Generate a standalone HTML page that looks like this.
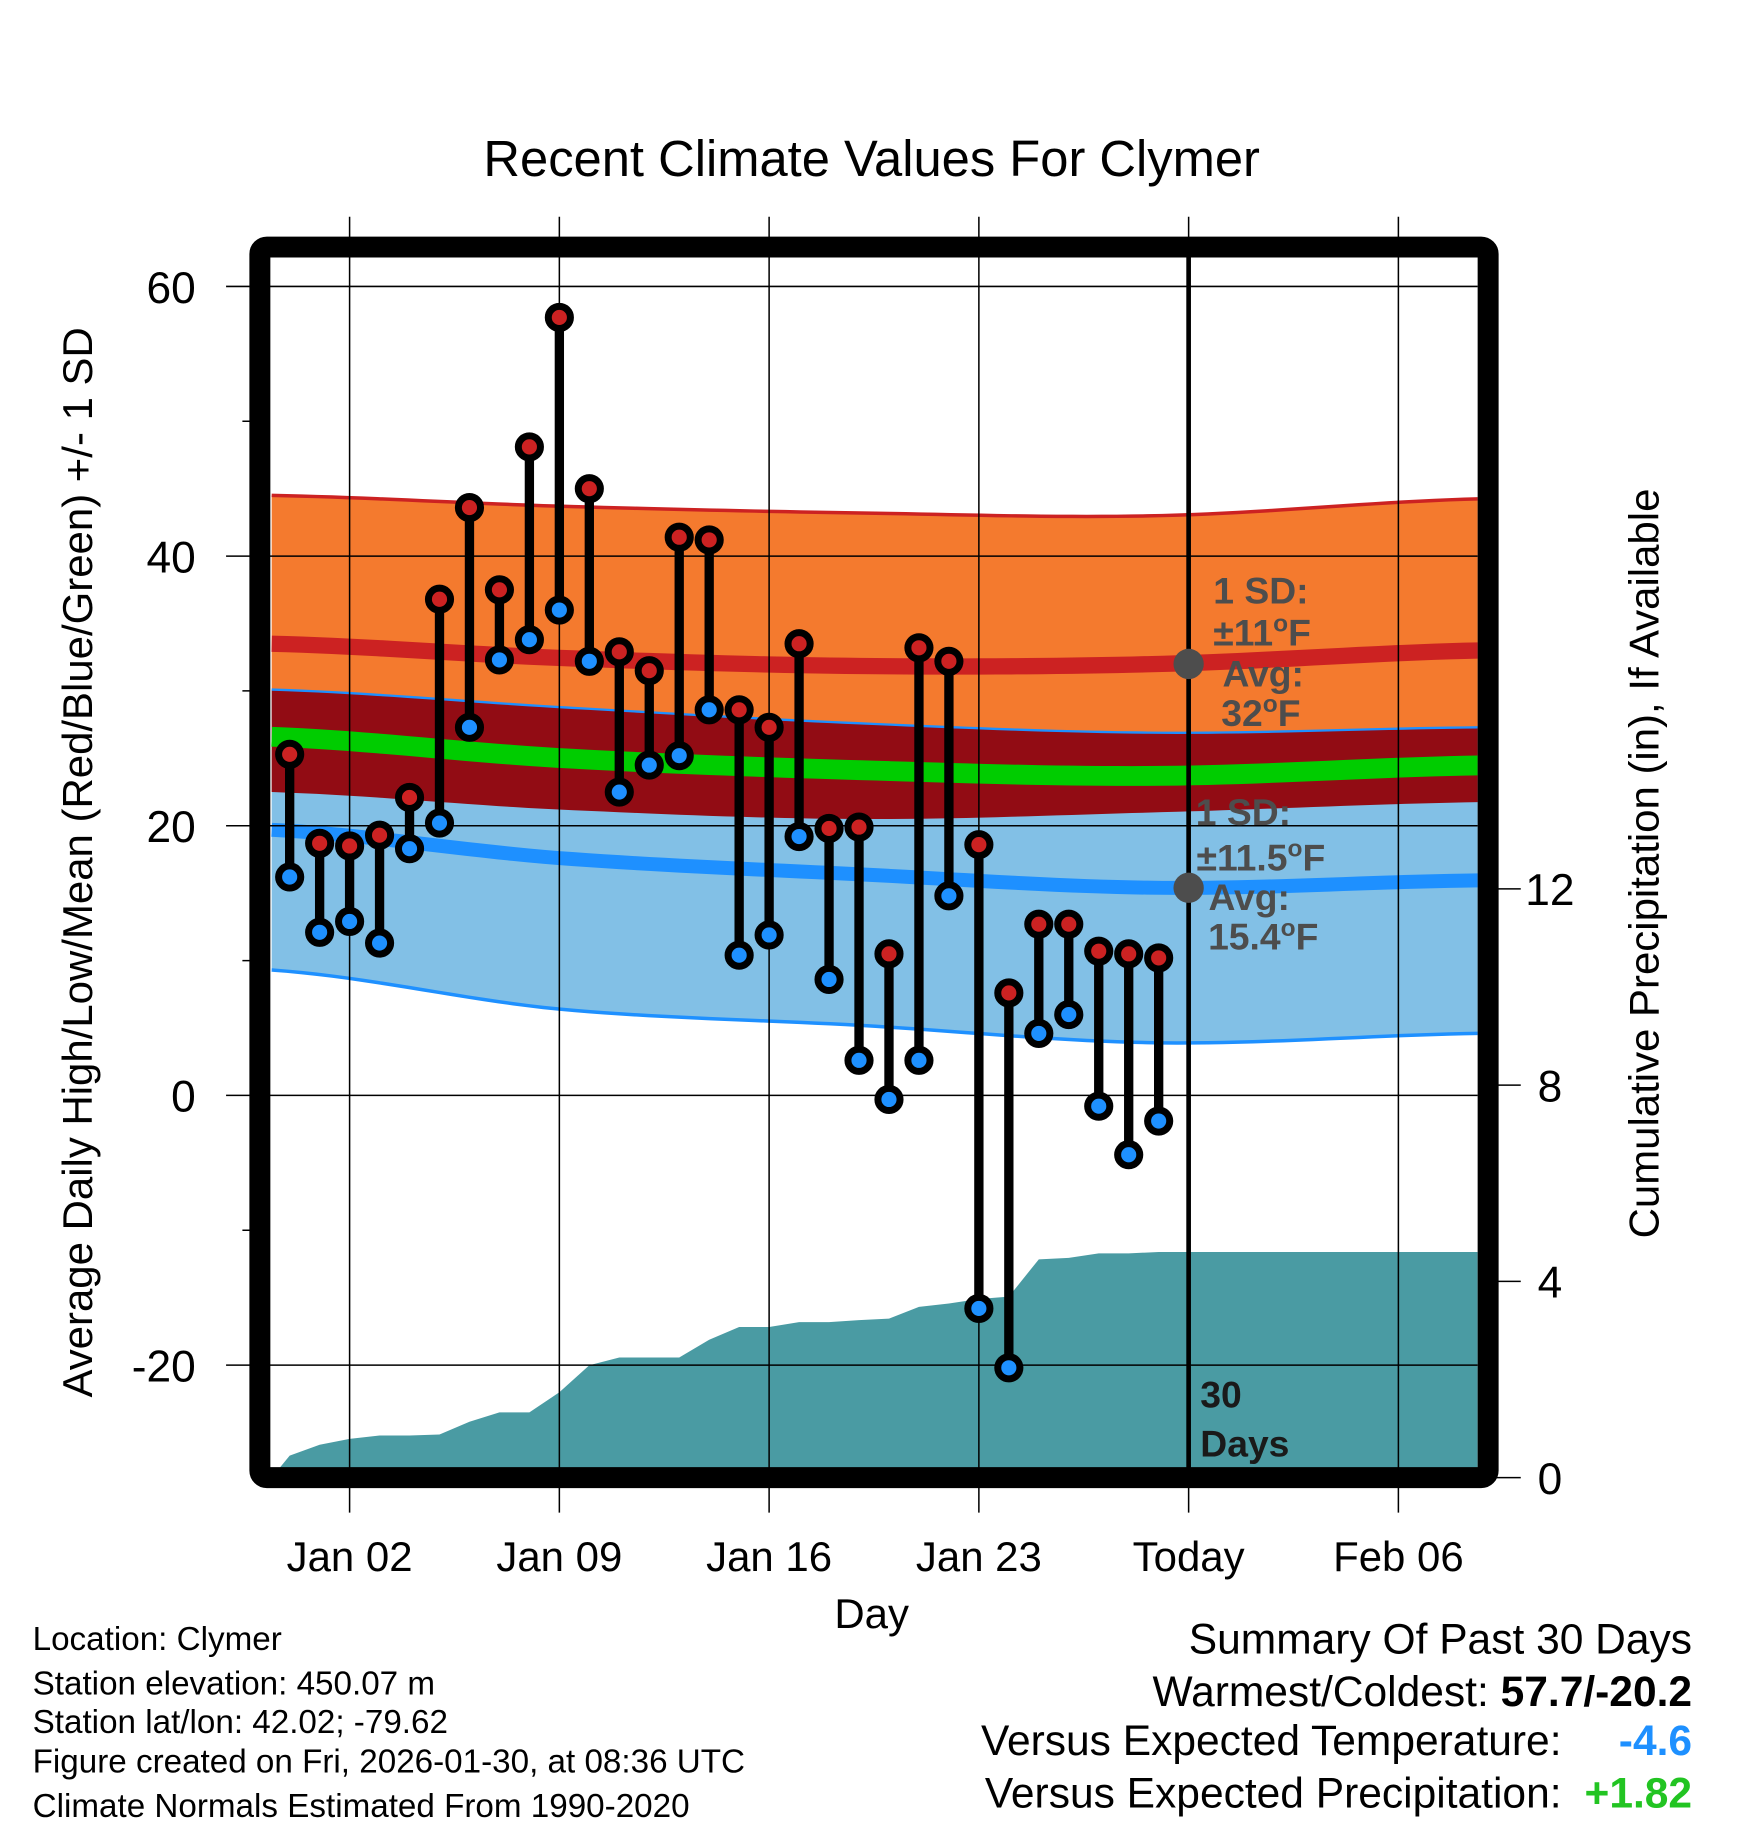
<!DOCTYPE html>
<html><head><meta charset="utf-8"><style>
html,body{margin:0;padding:0;background:#fff}
svg{display:block;font-family:"Liberation Sans",Arial,sans-serif}
</style></head><body>
<svg id="chart" width="1748" height="1828" viewBox="0 0 1500 1568.65" xmlns="http://www.w3.org/2000/svg">
<text x="748" y="151" font-size="43.5" text-anchor="middle">Recent Climate Values For Clymer</text>
<g id="plot"></g>
<text transform="translate(79,740) rotate(-90)" font-size="36" text-anchor="middle">Average Daily High/Low/Mean (Red/Blue/Green) +/- 1 SD</text>
<text transform="translate(1423,741) rotate(-90)" font-size="36" text-anchor="middle">Cumulative Precipitation (in), If Available</text>
<text x="748" y="1397" font-size="36" text-anchor="middle">Day</text>
<g font-size="28.5">
<text x="28" y="1416">Location: Clymer</text>
<text x="28" y="1454">Station elevation: 450.07 m</text>
<text x="28" y="1487">Station lat/lon: 42.02; -79.62</text>
<text x="28" y="1521">Figure created on Fri, 2026-01-30, at 08:36 UTC</text>
<text x="28" y="1559">Climate Normals Estimated From 1990-2020</text>
</g>
<g font-size="36.5" text-anchor="end">
<text x="1452" y="1419">Summary Of Past 30 Days</text>
<text x="1452" y="1464">Warmest/Coldest: <tspan font-weight="bold">57.7/-20.2</tspan></text>
<text x="1340" y="1506">Versus Expected Temperature:</text>
<text x="1452" y="1506" fill="#1E90FF" font-weight="bold">-4.6</text>
<text x="1340" y="1551">Versus Expected Precipitation:</text>
<text x="1452" y="1551" fill="#22C422" font-weight="bold">+1.82</text>
</g>
</svg>
<script>
const days=[0,1,2,3,4,5,6,7,8,9,10,11,12,13,14,15,16,17,18,19,20,21,22,23,24,25,26,27,28,29];
const highs=[25.3,18.7,18.5,19.3,22.1,36.8,43.6,37.5,48.1,57.7,45.0,32.9,31.5,41.4,41.2,28.6,27.3,33.5,19.8,19.9,10.5,33.2,32.2,18.6,7.6,12.7,12.7,10.7,10.5,10.2];
const lows=[16.2,12.1,12.9,11.3,18.3,20.2,27.3,32.3,33.8,36.0,32.2,22.5,24.5,25.2,28.6,10.4,11.9,19.2,8.6,2.6,-0.3,2.6,14.8,-15.8,-20.2,4.6,6.0,-0.8,-4.4,-1.9];
const precip=[0.45,0.67,0.79,0.86,0.86,0.88,1.14,1.33,1.33,1.74,2.29,2.45,2.45,2.45,2.81,3.07,3.07,3.17,3.17,3.21,3.24,3.48,3.55,3.64,3.69,4.45,4.48,4.57,4.57,4.6];
const normDays=[-0.6,9,19,29,39.7];
const normHigh=[33.5,32.45,31.85,32.0,33.0];
const highSD=[11.0,11.25,11.35,11.0,11.25];
const normLow=[19.7,17.6,16.4,15.4,15.95];
const lowSD=[10.4,11.2,11.2,11.5,11.35];
const xTickDays=[2,9,16,23,30,37];
const xTickLabels=["Jan 02","Jan 09","Jan 16","Jan 23","Today","Feb 06"];
const yTicks=[60,40,20,0,-20];
const yMinor=[50,30,10,-10];
const pTicks=[0,4,8,12];

const X=d=>300+25.714*(d-2);
const Y=t=>940-11.57*t;
const P=p=>1268-42.1*p;
const NS="http://www.w3.org/2000/svg";
const plot=document.getElementById('plot');
function mk(tag,attrs,parent){const e=document.createElementNS(NS,tag);for(const k in attrs)e.setAttribute(k,attrs[k]);(parent||plot).appendChild(e);return e;}
const L=232,R=1268,T=220,B=1260;
const defs=mk('defs',{});
const cp=mk('clipPath',{id:'pc'},defs);mk('rect',{x:L,y:T,width:R-L,height:B-T},cp);
const g=mk('g',{'clip-path':'url(#pc)'});
// smooth (Catmull-Rom) interpolation of normals
function interp(arr,d){const n=normDays.length;let i=0;while(i<n-2&&d>normDays[i+1])i++;
const t=(d-normDays[i])/(normDays[i+1]-normDays[i]);
const p0=arr[Math.max(i-1,0)],p1=arr[i],p2=arr[i+1],p3=arr[Math.min(i+2,n-1)];
const t2=t*t,t3=t2*t;
return 0.5*((2*p1)+(-p0+p2)*t+(2*p0-5*p1+4*p2-p3)*t2+(-p0+3*p1-3*p2+p3)*t3);}
const samp=[];for(let i=0;i<=80;i++)samp.push(normDays[0]+(normDays[normDays.length-1]-normDays[0])*i/80);
function band(f1,f2,fill,name){const pts=samp.map(d=>X(d)+','+Y(f1(d)));const pts2=samp.slice().reverse().map(d=>X(d)+','+Y(f2(d)));const e=mk('polygon',{points:pts.concat(pts2).join(' '),fill:fill},g);return e;}
function line(f,stroke,w,name){const e=mk('polyline',{points:samp.map(d=>X(d)+','+Y(f(d))).join(' '),fill:'none',stroke:stroke,'stroke-width':w},g);}
const hU=d=>interp(normHigh,d)+interp(highSD,d),hL=d=>interp(normHigh,d)-interp(highSD,d);
const lU=d=>interp(normLow,d)+interp(lowSD,d),lL=d=>interp(normLow,d)-interp(lowSD,d);
band(hU,hL,'#F47A2E','high-sd-band');
band(lU,lL,'#82C0E6','low-sd-band');
band(d=>Math.min(hU(d),lU(d)),hL,'#920C14','overlap-band');
line(hU,'#CC2222',3,'high-sd-upper-edge');
line(lU,'#1E90FF',2,'low-sd-upper-edge');
line(lL,'#1E90FF',3,'low-sd-lower-edge');
line(d=>interp(normHigh,d),'#CC2222',14,'normal-high-line');
line(d=>interp(normLow,d),'#1E90FF',12,'normal-low-line');
line(d=>(interp(normHigh,d)+interp(normLow,d))/2,'#00CC00',17,'normal-mean-line');
let pp=[L+','+B];pp.push(X(-0.6)+','+P(0));days.forEach((d,i)=>pp.push(X(d)+','+P(precip[i])));pp.push(R+','+P(precip[precip.length-1]));pp.push(R+','+B);
const pa=mk('polygon',{points:pp.join(' '),fill:'#4A9BA3'},g);


xTickDays.forEach((d,i)=>{const gl=mk('line',{x1:X(d),x2:X(d),y1:186,y2:1298,stroke:'#000','stroke-width':1.3});


const t=mk('text',{x:X(d),y:1348,'font-size':36,'text-anchor':'middle'});t.textContent=xTickLabels[i];

});
yTicks.forEach(v=>{const gl=mk('line',{x1:194,x2:R,y1:Y(v),y2:Y(v),stroke:'#000','stroke-width':1.3});


const t=mk('text',{x:168,y:Y(v)+14,'font-size':38,'text-anchor':'end'});t.textContent=v;

});
yMinor.forEach(v=>{const m=mk('line',{x1:208,x2:224,y1:Y(v),y2:Y(v),stroke:'#000','stroke-width':1.3});

});
pTicks.forEach(v=>{const m=mk('line',{x1:1277,x2:1305,y1:P(v),y2:P(v),stroke:'#000','stroke-width':1.3});


const t=mk('text',{x:1330,y:P(v)+14,'font-size':38,'text-anchor':'middle'});t.textContent=v;

});
const tl=mk('line',{x1:X(30),x2:X(30),y1:T,y2:B,stroke:'#000','stroke-width':4});


function txt(s,x,y,name){const t=mk('text',{x:x,y:y,'font-size':32,'font-weight':'bold','text-anchor':'middle',fill:'#4D4D4D'});t.innerHTML=s;}
const dh=mk('circle',{cx:X(30),cy:Y(32),r:13,fill:'#4D4D4D'});


const dl=mk('circle',{cx:X(30),cy:Y(15.4),r:13,fill:'#4D4D4D'});


const deg='<tspan dy="-12" font-size="21">o</tspan><tspan dy="12">F</tspan>';
txt('1 SD:',1082,518,'high-sd-label');txt('±11'+deg,1083,554,'high-sd-value');
txt('Avg:',1084,589,'high-avg-label');txt('32'+deg,1082,623,'high-avg-value');
txt('1 SD:',1067,708,'low-sd-label');txt('±11.5'+deg,1082,747,'low-sd-value');
txt('Avg:',1072,781,'low-avg-label');txt('15.4'+deg,1084,815,'low-avg-value');
const d1=mk('text',{x:1030,y:1208,'font-size':32,'font-weight':'bold',fill:'#1a1a1a'});d1.textContent='30';


const d2=mk('text',{x:1030,y:1250,'font-size':32,'font-weight':'bold',fill:'#1a1a1a'});d2.textContent='Days';


days.forEach((d,i)=>{const x=X(d);
const s=mk('line',{x1:x,x2:x,y1:Y(highs[i]),y2:Y(lows[i]),stroke:'#000','stroke-width':8});


const h=mk('circle',{cx:x,cy:Y(highs[i]),r:9.5,fill:'#CC2222',stroke:'#000','stroke-width':6});


const l=mk('circle',{cx:x,cy:Y(lows[i]),r:9.5,fill:'#1E90FF',stroke:'#000','stroke-width':6});

});
const fr=mk('rect',{x:223,y:212,width:1054,height:1056,rx:6,fill:'none',stroke:'#000','stroke-width':18});


</script>
</body></html>
